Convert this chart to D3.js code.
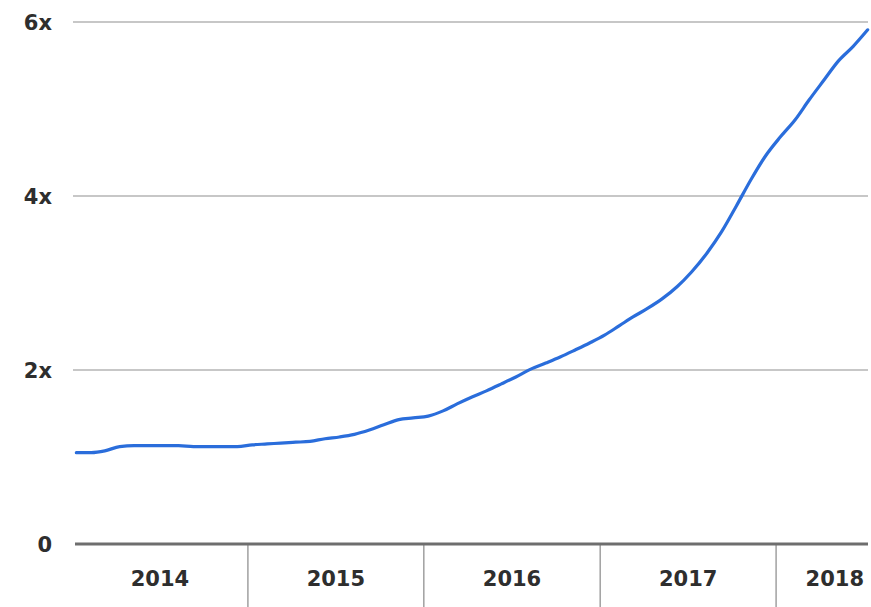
<!DOCTYPE html>
<html>
<head>
<meta charset="utf-8">
<script src="https://cdn.jsdelivr.net/npm/d3@7"></script>
<style>
  html, body { margin: 0; padding: 0; background: #fff; }
  svg { display: block; }
  text { font-family: "DejaVu Sans", sans-serif; fill: #2e2e2e; font-weight: bold; }
</style>
</head>
<body>
<svg id="chart" width="871" height="607"></svg>
<script>
// ---- data ----
const dates = [
  "2014-01-10","2014-02-10","2014-03-10","2014-04-10","2014-05-10","2014-06-10",
  "2014-07-10","2014-08-10","2014-09-10","2014-10-10","2014-11-10","2014-12-10",
  "2015-01-10","2015-02-10","2015-03-10","2015-04-10","2015-05-10","2015-06-10",
  "2015-07-10","2015-08-10","2015-09-10","2015-10-10","2015-11-10","2015-12-10",
  "2016-01-10","2016-02-10","2016-03-10","2016-04-10","2016-05-10","2016-06-10",
  "2016-07-10","2016-08-10","2016-09-10","2016-10-10","2016-11-10","2016-12-10",
  "2017-01-10","2017-02-10","2017-03-10","2017-04-10","2017-05-10","2017-06-10",
  "2017-07-10","2017-08-10","2017-09-10","2017-10-10","2017-11-10","2017-12-10",
  "2018-01-10","2018-02-10","2018-03-10","2018-04-10","2018-05-10","2018-06-10",
  "2018-07-10"
];
const values = [
  1.05, 1.05, 1.07, 1.12, 1.13, 1.13,
  1.13, 1.13, 1.12, 1.12, 1.12, 1.12,
  1.14, 1.15, 1.16, 1.17, 1.18, 1.21,
  1.23, 1.26, 1.31, 1.37, 1.43, 1.45,
  1.47, 1.53, 1.61, 1.69, 1.76, 1.84,
  1.92, 2.01, 2.08, 2.15, 2.23, 2.31,
  2.40, 2.51, 2.61, 2.71, 2.82, 2.96,
  3.13, 3.34, 3.59, 3.88, 4.19, 4.46,
  4.68, 4.88, 5.10, 5.33, 5.55, 5.72,
  5.91
];
const yTicks = [0, 2, 4, 6];
const yTickLabels = ["0", "2x", "4x", "6x"];
const years = ["2014", "2015", "2016", "2017", "2018"];

// ---- layout ----
const svg = d3.select("#chart");
const mLeft = 72, mRight = 868, mTop = 22, mBottom = 544;
const parse = d3.timeParse("%Y-%m-%d");
const yearStart = yr => new Date(+yr, 0, 1);

const x = d3.scaleTime()
  .domain([yearStart("2014"), yearStart("2019")])
  .range([mLeft, mLeft + 5 * 176]);
const y = d3.scaleLinear().domain([0, 6]).range([mBottom, mTop]);

// gridlines
svg.append("g").selectAll("line")
  .data(yTicks.filter(d => d !== 0))
  .join("line")
  .attr("x1", mLeft + 1).attr("x2", mRight)
  .attr("y1", d => y(d)).attr("y2", d => y(d))
  .attr("stroke", "#b5b5b5").attr("stroke-width", 1.5);

// y labels
svg.append("g").selectAll("text")
  .data(yTicks)
  .join("text")
  .attr("x", 52).attr("y", d => y(d))
  .attr("dy", "0.36em")
  .attr("text-anchor", "end")
  .attr("font-size", 21)
  .text((d, i) => yTickLabels[i]);

// year dividers
svg.append("g").selectAll("line")
  .data(years.slice(1))
  .join("line")
  .attr("x1", d => x(yearStart(d))).attr("x2", d => x(yearStart(d)))
  .attr("y1", mBottom).attr("y2", 607)
  .attr("stroke", "#a0a0a0").attr("stroke-width", 1.5);

// baseline
svg.append("line")
  .attr("x1", mLeft + 3).attr("x2", mRight)
  .attr("y1", y(0)).attr("y2", y(0))
  .attr("stroke", "#6e6e6e").attr("stroke-width", 3);

// year labels
svg.append("g").selectAll("text")
  .data(years)
  .join("text")
  .attr("x", (d, i) => {
    const a = x(yearStart(d));
    const b = x(yearStart(String(+d + 1)));
    return i === years.length - 1 ? mRight - 4 : (a + b) / 2;
  })
  .attr("y", 578)
  .attr("dy", "0.36em")
  .attr("text-anchor", (d, i) => i === years.length - 1 ? "end" : "middle")
  .attr("font-size", 21)
  .text(d => d);

// line
const data = dates.map((d, i) => ({ date: parse(d), value: values[i] }));
svg.append("path")
  .datum(data)
  .attr("fill", "none")
  .attr("stroke", "#2a6ddb")
  .attr("stroke-width", 3.2)
  .attr("stroke-linejoin", "round")
  .attr("stroke-linecap", "round")
  .attr("d", d3.line().x(d => x(d.date)).y(d => y(d.value)).curve(d3.curveMonotoneX));
</script>
</body>
</html>
